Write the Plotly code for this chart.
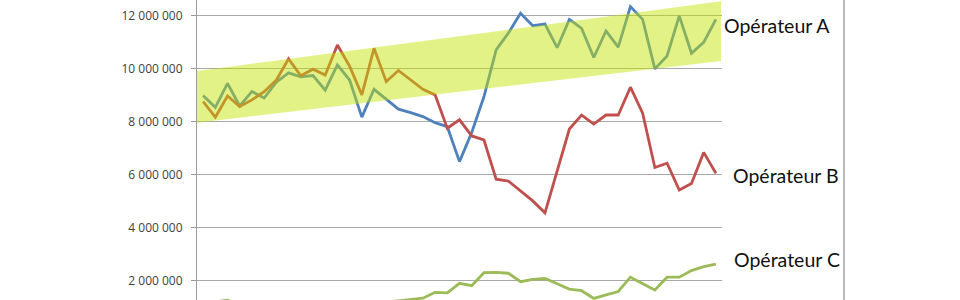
import plotly.graph_objects as go

# category index (43 periods)
periods = list(range(43))

op_a = [9.00, 8.55, 9.45, 8.60, 9.15, 8.90, 9.50, 9.85, 9.70, 9.75,
        9.20, 10.15, 9.58, 8.18, 9.23, 8.86, 8.48, 8.35, 8.20, 7.97,
        7.82, 6.50, 7.60, 8.95, 10.72, 11.35, 12.10, 11.63, 11.69, 10.80,
        11.87, 11.53, 10.43, 11.43, 10.82, 12.35, 11.87, 10.00, 10.49, 12.00,
        10.59, 11.00, 11.87]
op_b = [8.77, 8.18, 8.98, 8.58, 8.83, 9.14, 9.58, 10.38, 9.74, 9.99,
        9.77, 10.90, 10.10, 9.02, 10.78, 9.52, 9.94, 9.58, 9.23, 9.02,
        7.76, 8.08, 7.47, 7.32, 5.84, 5.77, 5.40, 5.02, 4.57, 6.19,
        7.73, 8.26, 7.92, 8.26, 8.26, 9.31, 8.33, 6.28, 6.44, 5.43,
        5.68, 6.85, 6.06]
op_c = [1.15, 1.20, 1.27, 1.10, 1.05, 1.00, 1.05, 1.10, 1.00, 0.95,
        1.00, 1.05, 1.10, 1.15, 1.10, 1.20, 1.25, 1.30, 1.35, 1.57,
        1.55, 1.91, 1.82, 2.31, 2.32, 2.29, 1.97, 2.06, 2.09, 1.89,
        1.69, 1.63, 1.34, 1.47, 1.60, 2.14, 1.89, 1.66, 2.14, 2.14,
        2.39, 2.54, 2.63]
M = 1_000_000
op_a = [v * M for v in op_a]
op_b = [v * M for v in op_b]
op_c = [v * M for v in op_c]

# trend band (start / end of highlighted corridor)
band_x = [-0.83, 42.42]
band_low = [7.95 * M, 10.30 * M]
band_high = [9.90 * M, 12.55 * M]

tick_vals = [2 * M, 4 * M, 6 * M, 8 * M, 10 * M, 12 * M]
tick_text = ["2 000 000", "4 000 000", "6 000 000", "8 000 000", "10 000 000", "12 000 000"]

series_labels = ["Opérateur A", "Opérateur B", "Opérateur C"]

fig = go.Figure()
fig.add_trace(go.Scatter(x=periods, y=op_a, mode="lines",
                         line=dict(color="#4F81BD", width=2.8), hoverinfo="skip"))
fig.add_trace(go.Scatter(x=periods, y=op_b, mode="lines",
                         line=dict(color="#C0504D", width=2.8), hoverinfo="skip"))
fig.add_trace(go.Scatter(x=periods, y=op_c, mode="lines",
                         line=dict(color="#9BBB59", width=2.8), hoverinfo="skip"))
fig.add_trace(go.Scatter(
    x=[band_x[0], band_x[1], band_x[1], band_x[0], band_x[0]],
    y=[band_low[0], band_low[1], band_high[1], band_high[0], band_low[0]],
    mode="none", fill="toself", fillcolor="rgba(195,228,0,0.47)", hoverinfo="skip"))

fig.update_layout(
    width=960, height=300,
    margin=dict(l=197, r=238, t=0, b=0),
    paper_bgcolor="white", plot_bgcolor="white",
    showlegend=False,
    font=dict(family="Open Sans", color="#333"),
    xaxis=dict(range=[-0.5, 42.5], visible=False, fixedrange=True),
    yaxis=dict(range=[1.28 * M, 12.6 * M], tickvals=tick_vals, ticktext=tick_text,
               showgrid=True, gridcolor="#A8A8A8", gridwidth=1,
               showline=True, linecolor="#9A9A9A", linewidth=1,
               ticks="outside", ticklen=5, tickcolor="#9A9A9A",
               ticklabelstandoff=6,
               tickfont=dict(family="Open Sans", size=12, color="#404040"),
               zeroline=False),
)

# label anchor (left edge px, centre y px) converted to paper fractions
label_px = [(722, 25), (731, 175), (732, 259)]
for txt, (lx, ly) in zip(series_labels, label_px):
    fig.add_annotation(text=txt, x=(lx - 197) / 525, y=1 - ly / 300,
                       xref="paper", yref="paper",
                       xanchor="left", yanchor="middle", showarrow=False,
                       font=dict(family="Lato", size=19.5, color="#111111"))

fig.add_shape(type="line", xref="paper", yref="paper",
              x0=(844 - 197) / 525, x1=(844 - 197) / 525, y0=0, y1=1,
              line=dict(color="#A0A0A0", width=1.5))

fig.write_html("out.html")
